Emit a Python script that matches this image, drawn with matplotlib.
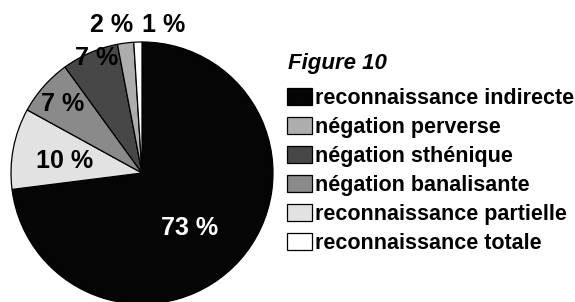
import numpy as np
import matplotlib.pyplot as plt

plt.rcParams['font.family'] = ['Liberation Sans', 'DejaVu Sans']

# slices in drawing order (clockwise from the top)
labels = ['reconnaissance indirecte', 'reconnaissance partielle', 'négation banalisante',
          'négation sthénique', 'négation perverse', 'reconnaissance totale']
values = [73, 10, 7, 7, 2, 1]
colors = ['#050505', '#e2e2e2', '#8a8a8a', '#474747', '#adadad', '#ffffff']
pct_text = ['73 %', '10 %', '7 %', '7 %', '2 %', '1 %']
pct_color = ['white', 'black', 'black', 'black', 'black', 'black']
# where each percentage sits: radius (fraction of R) and angle (deg)
pct_r = [0.557, 0.60, 0.80, 0.94, 1.154, 1.142]
pct_ang = [-48.9, 171.3, 138.9, 111.4, 101.8, 81.5]

legend_order = ['reconnaissance indirecte', 'négation perverse', 'négation sthénique',
                'négation banalisante', 'reconnaissance partielle', 'reconnaissance totale']

W, H = 575, 302
fig = plt.figure(figsize=(W / 100, H / 100), dpi=100)

cx, cy, R = 142, 173, 131
ax = fig.add_axes([(cx - R) / W, (H - cy - R) / H, 2 * R / W, 2 * R / H])
wedges, _ = ax.pie(values, colors=colors, startangle=90, counterclock=False,
                   wedgeprops=dict(edgecolor='black', linewidth=0.9))
ax.set_xlim(-1, 1)
ax.set_ylim(-1, 1)
ax.set_aspect('equal')
ax.axis('off')

for t, c, r, a in zip(pct_text, pct_color, pct_r, pct_ang):
    ax.text(r * np.cos(np.radians(a)), r * np.sin(np.radians(a)), t, color=c,
            fontsize=18, fontweight='bold', ha='center', va='center', clip_on=False)

fig.text(288 / W, 1 - 63 / H, 'Figure 10', fontsize=16, fontweight='bold',
         fontstyle='italic', ha='left', va='center')

handles = [wedges[labels.index(l)] for l in legend_order]
fig.legend(handles, legend_order, loc='upper left', bbox_to_anchor=(287 / W, 1 - 88 / H),
           frameon=False, borderpad=0, borderaxespad=0,
           prop=dict(family='Liberation Sans', weight='bold', size=15.5),
           handlelength=1.15, handleheight=0.8, handletextpad=0.15, labelspacing=0.37)

fig.savefig('out.png', dpi=100)
